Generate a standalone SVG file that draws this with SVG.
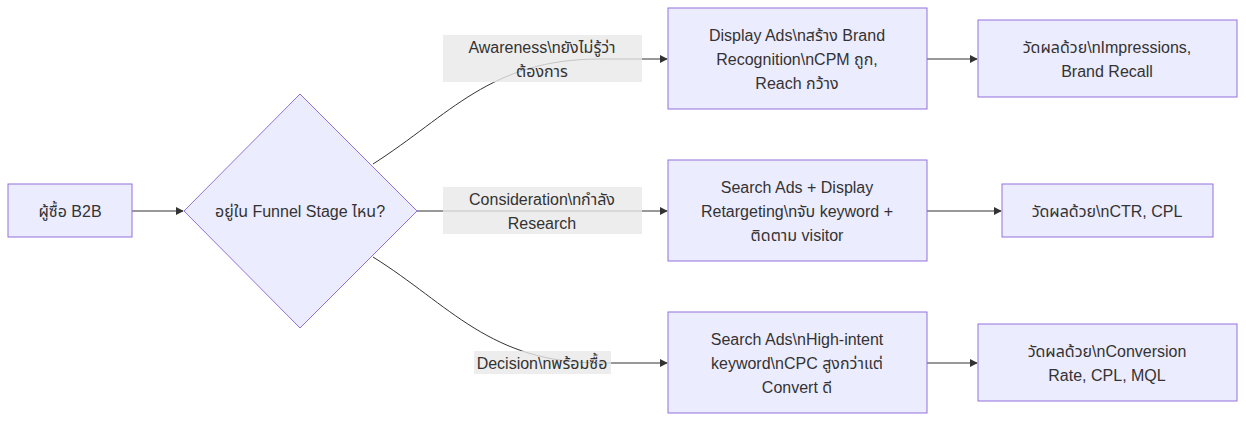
<svg xmlns="http://www.w3.org/2000/svg" width="1246" height="422" viewBox="0 0 1246 422">
<style>
.n{fill:#ECECFF;stroke:#9370DB;stroke-width:1}
.t{font-family:"Liberation Sans",Arial,"Noto Sans","Noto Sans Thai",sans-serif;font-size:16px;fill:#333;text-anchor:middle;dominant-baseline:central}
.e{fill:none;stroke:#333;stroke-width:1;marker-end:url(#a)}
.lb{fill:#e8e8e8;opacity:0.8}
</style>
<defs><marker id="a" viewBox="0 0 10 10" refX="9" refY="5" markerWidth="8" markerHeight="8" orient="auto"><path d="M0,0L10,5L0,10z" fill="#333"/></marker></defs>
<rect width="1246" height="422" fill="#fff"/>
<g id="edges">
<path class="e" d="M132,211L183,211"/>
<path class="e" d="M373,164C450,115 490,59 600,59L667,59"/>
<path class="e" d="M417,211L667,211"/>
<path class="e" d="M373,257C450,305 490,363 600,363L667,363"/>
<path class="e" d="M927,59L977,59"/>
<path class="e" d="M927,211L1001,211"/>
<path class="e" d="M927,363L977,363"/>
</g>
<g id="labels">
<rect class="lb" x="443" y="35" width="199" height="47"/>
<text class="t" x="542" y="47">Awareness\nยังไม่รู้ว่า</text>
<text class="t" x="542" y="71">ต้องการ</text>
<rect class="lb" x="443" y="187" width="199" height="47"/>
<text class="t" x="542" y="199">Consideration\nกำลัง</text>
<text class="t" x="542" y="223">Research</text>
<rect class="lb" x="474" y="351" width="137" height="23"/>
<text class="t" x="542" y="363">Decision\nพร้อมซื้อ</text>
</g>
<g id="A"><rect class="n" x="8" y="184" width="124" height="53"/><text class="t" x="70" y="211">ผู้ซื้อ B2B</text></g>
<g id="B"><polygon class="n" points="300,94 417,211 300,328 184,211"/><text class="t" x="300" y="211">อยู่ใน Funnel Stage ไหน?</text></g>
<g id="C"><rect class="n" x="668" y="8" width="259" height="101"/><text class="t" x="797" y="35">Display Ads\nสร้าง Brand</text><text class="t" x="797" y="59">Recognition\nCPM ถูก,</text><text class="t" x="797" y="83">Reach กว้าง</text></g>
<g id="D"><rect class="n" x="668" y="160" width="259" height="101"/><text class="t" x="797" y="187">Search Ads + Display</text><text class="t" x="797" y="211">Retargeting\nจับ keyword +</text><text class="t" x="797" y="235">ติดตาม visitor</text></g>
<g id="E"><rect class="n" x="668" y="312" width="259" height="101"/><text class="t" x="797" y="339">Search Ads\nHigh-intent</text><text class="t" x="797" y="363">keyword\nCPC สูงกว่าแต่</text><text class="t" x="797" y="387">Convert ดี</text></g>
<g id="F"><rect class="n" x="978" y="20" width="259" height="77"/><text class="t" x="1107" y="47">วัดผลด้วย\nImpressions,</text><text class="t" x="1107" y="71">Brand Recall</text></g>
<g id="G"><rect class="n" x="1002" y="184" width="211" height="53"/><text class="t" x="1107" y="211">วัดผลด้วย\nCTR, CPL</text></g>
<g id="H"><rect class="n" x="978" y="324" width="259" height="77"/><text class="t" x="1107" y="351">วัดผลด้วย\nConversion</text><text class="t" x="1107" y="375">Rate, CPL, MQL</text></g>
</svg>
